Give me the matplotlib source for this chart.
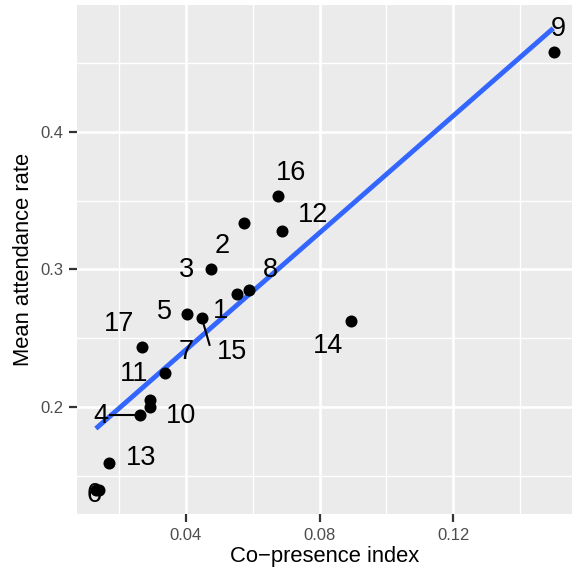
import matplotlib
matplotlib.use("Agg")
import matplotlib.pyplot as plt
import numpy as np

# points
co_presence = [0.1501, 0.0676, 0.0574, 0.0689, 0.0475, 0.0553, 0.0588, 0.0403, 0.0448,
               0.0269, 0.0894, 0.0339, 0.0293, 0.0293, 0.0263, 0.0171, 0.0131, 0.0141]
attendance = [0.4578, 0.3536, 0.3336, 0.3283, 0.3000, 0.2820, 0.2849, 0.2677, 0.2648,
              0.2436, 0.2624, 0.2249, 0.2055, 0.2000, 0.1947, 0.1598, 0.1402, 0.1399]
ids = ["9", "16", "2", "12", "3", "1", "8", "5", "15",
       "17", "14", "11", "7", "10", "4", "13", "6", ""]
# repelled label positions (data units)
label_x = [0.1513, 0.0715, 0.0510, 0.0782, 0.0401, 0.0504, 0.0652, 0.0337, 0.0537,
           0.0199, 0.0825, 0.0245, 0.0401, 0.0385, 0.0145, 0.0265, 0.0127, None]
label_y = [0.4745, 0.3703, 0.3169, 0.3396, 0.2999, 0.2696, 0.2994, 0.2690, 0.2401,
           0.2603, 0.2444, 0.2243, 0.2401, 0.1936, 0.1935, 0.1635, 0.1362, None]
# labels that got a connector segment: id -> segment end (data units)
segments = {"4": (0.0172, 0.1947), "15": (0.0471, 0.2453)}

# linear smooth, ends
smooth_x = [0.0131, 0.1499]
smooth_y = [0.1845, 0.4751]

x_ticks = [0.04, 0.08, 0.12]
y_ticks = [0.2, 0.3, 0.4]

plt.rcParams['font.family'] = ['Liberation Sans', 'DejaVu Sans']

fig = plt.figure(figsize=(5.72, 5.73), dpi=100)
ax = fig.add_axes([77 / 572, 59 / 573, 495 / 572, 509 / 573])
ax.set_facecolor('#EBEBEB')

ax.set_xlim(0.00746, 0.1555)
ax.set_ylim(0.1225, 0.492)

for v in [0.02, 0.06, 0.10, 0.14]:
    ax.axvline(v, color='white', lw=1.0, zorder=0)
for v in [0.15, 0.25, 0.35, 0.45]:
    ax.axhline(v, color='white', lw=1.0, zorder=0)
for v in x_ticks:
    ax.axvline(v, color='white', lw=1.9, zorder=0)
for v in y_ticks:
    ax.axhline(v, color='white', lw=1.9, zorder=0)

ax.plot(smooth_x, smooth_y, color='#3366FF', lw=3.5, zorder=2, solid_capstyle='butt')

xs = np.array(co_presence)
ys = np.array(attendance)
ax.scatter(xs, ys, s=75, color='black', zorder=3, linewidths=0)

for i, lab in enumerate(ids):
    if not lab:
        continue
    ax.text(label_x[i], label_y[i], lab, fontsize=19.5, ha='center', va='center',
            color='black', zorder=4)
    if lab in segments:
        ex, ey = segments[lab]
        ax.plot([ex, xs[i]], [ey, ys[i]], color='black', lw=1.5, zorder=3)

for s in ax.spines.values():
    s.set_visible(False)

ax.set_xticks(x_ticks)
ax.set_xticklabels(["0.04", "0.08", "0.12"])
ax.set_yticks(y_ticks)
ax.set_yticklabels(["0.2", "0.3", "0.4"])
ax.tick_params(axis='both', length=6, width=1.6, color='#333333',
               labelsize=12, labelcolor='#4D4D4D', pad=4)

ax.set_xlabel("Co\u2212presence index", fontsize=15.8, labelpad=2)
ax.set_ylabel("Mean attendance rate", fontsize=15.8, labelpad=4)

fig.savefig("out.png", dpi=100)
